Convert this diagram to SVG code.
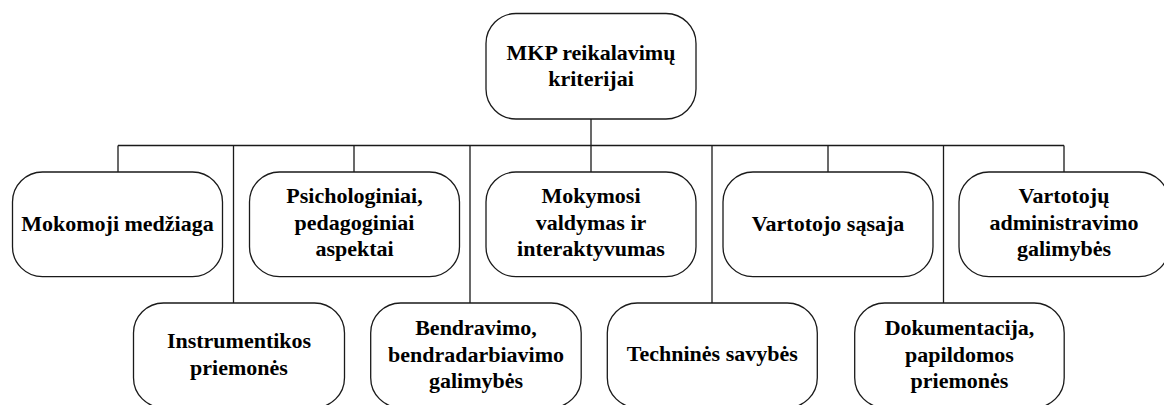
<svg xmlns="http://www.w3.org/2000/svg" width="1164" height="405" viewBox="0 0 1164 405">
<style>
.box{fill:#fff;stroke:#1a1a1a;stroke-width:1.3}
.conn{fill:none;stroke:#1a1a1a;stroke-width:1.3}
.t{font-family:'Liberation Serif','Times New Roman',serif;font-weight:bold;font-size:22px;fill:#000;text-anchor:middle}
</style>
<rect width="1164" height="405" fill="#fff"/>
<g id="connectors">
<path class="conn" d="M591,119 V172 M118,145.5 H1064 M118,145.5 V172 M354,145.5 V172 M828,145.5 V172 M1064,145.5 V172 M233.5,145.5 V303 M470,145.5 V303 M712,145.5 V303 M943.5,145.5 V303"/>
</g>
<g class="t">
<g id="root">
<rect class="box" x="486" y="13.5" width="210" height="105.5" rx="30"/>
<text x="591" y="60">MKP reikalavimų</text>
<text x="591" y="86">kriterijai</text>
</g>
<g id="mokomoji">
<rect class="box" x="12.5" y="172" width="210" height="104.7" rx="30"/>
<text x="117.5" y="231">Mokomoji medžiaga</text>
</g>
<g id="psichologiniai">
<rect class="box" x="249.5" y="172" width="210" height="104.7" rx="30"/>
<text x="354.5" y="203.3">Psichologiniai,</text>
<text x="354.5" y="229.7">pedagoginiai</text>
<text x="354.5" y="256">aspektai</text>
</g>
<g id="mokymosi">
<rect class="box" x="486" y="172" width="210" height="104.7" rx="30"/>
<text x="591" y="203.3">Mokymosi</text>
<text x="591" y="229.7">valdymas ir</text>
<text x="591" y="256">interaktyvumas</text>
</g>
<g id="sasaja">
<rect class="box" x="723" y="172" width="210" height="104.7" rx="30"/>
<text x="828" y="231">Vartotojo sąsaja</text>
</g>
<g id="administravimas">
<rect class="box" x="959" y="172" width="210" height="104.7" rx="30"/>
<text x="1064" y="203.3">Vartotojų</text>
<text x="1064" y="229.7">administravimo</text>
<text x="1064" y="256">galimybės</text>
</g>
<g id="instrumentikos">
<rect class="box" x="133.5" y="303" width="211" height="104.7" rx="30"/>
<text x="239" y="348.3">Instrumentikos</text>
<text x="239" y="374.7">priemonės</text>
</g>
<g id="bendravimo">
<rect class="box" x="370.7" y="303" width="210.5" height="104.7" rx="30"/>
<text x="476" y="335">Bendravimo,</text>
<text x="476" y="361.5">bendradarbiavimo</text>
<text x="476" y="388">galimybės</text>
</g>
<g id="technines">
<rect class="box" x="607.3" y="303" width="210" height="104.7" rx="30"/>
<text x="712.3" y="361">Techninės savybės</text>
</g>
<g id="dokumentacija">
<rect class="box" x="854.7" y="303" width="209.5" height="104.7" rx="30"/>
<text x="959.5" y="335">Dokumentacija,</text>
<text x="959.5" y="361.5">papildomos</text>
<text x="959.5" y="388">priemonės</text>
</g>
</g>
</svg>
